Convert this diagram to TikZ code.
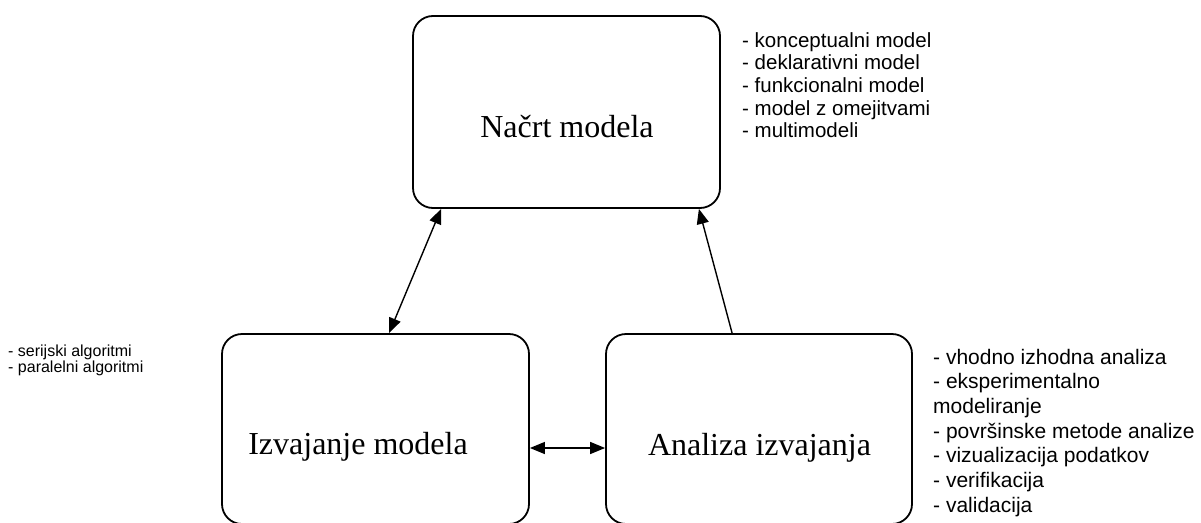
\documentclass[tikz,border=0pt]{standalone}
\usepackage{fontspec}
\setmainfont{Liberation Serif}
\setsansfont{Liberation Sans}
\usetikzlibrary{arrows.meta,calc}
\begin{document}
\begin{tikzpicture}[x=1pt,y=-1pt,
  box/.style={draw, line width=1.8pt, rounded corners=20pt, inner sep=0pt},
  lbl/.style={font=\fontsize{32}{36}\selectfont, inner sep=0pt, anchor=base},
  lst/.style={inner sep=0pt, anchor=base west},
  conn/.style={line width=1.4pt},
  tip/.style={-{Triangle[length=15pt,width=12pt]}},
  tips/.style={{Triangle[length=15pt,width=12pt]}-{Triangle[length=15pt,width=12pt]}}]
\useasboundingbox (0,0) rectangle (1201,522);
\clip (0,0) rectangle (1201,522);
% boxes
\node[box, minimum width=307pt, minimum height=192pt] (top) at (566.5,112) {};
\node[box, minimum width=307pt, minimum height=190pt] (left) at (375.5,429) {};
\node[box, minimum width=306pt, minimum height=190pt] (right) at (759,429) {};
% labels
\node[lbl] (ltop) at (567,137) {Načrt modela};
\node[lbl] (lleft) at (358,454) {Izvajanje modela};
\node[lbl] (lright) at (759.5,455) {Analiza izvajanja};
% lists
\node[lst] (stop) at (742,47) {\parbox[t]{300pt}{\raggedright\sffamily\fontsize{20.5}{22.7}\selectfont
- konceptualni model\\
- deklarativni model\\
- funkcionalni model\\
- model z omejitvami\\
- multimodeli}};
\node[lst] (sleft) at (8,356) {\parbox[t]{200pt}{\raggedright\sffamily\fontsize{16}{16.5}\selectfont
- serijski algoritmi\\
- paralelni algoritmi}};
\node[lst] (sright) at (933,364) {\parbox[t]{300pt}{\raggedright\sffamily\fontsize{21}{24.7}\selectfont
- vhodno izhodna analiza\\
- eksperimentalno\\
modeliranje\\
- površinske metode analize\\
- vizualizacija podatkov\\
- verifikacija\\
- validacija}};
% connector anchors
\coordinate (tA) at ($(top.south west)+(29,0)$);
\coordinate (tB) at ($(top.south east)+(-22,0)$);
\coordinate (lA) at ($(left.north west)+(168,0)$);
\coordinate (rA) at ($(right.north west)+(127,0)$);
\coordinate (lE) at ($(left.east)+(0,19)$);
\coordinate (rW) at ($(right.west)+(0,19)$);
% connectors
\draw[conn, tips] (tA) -- (lA);
\draw[conn, tip] (rA) -- (tB);
\draw[conn, tips] (lE) -- (rW);
\end{tikzpicture}
\end{document}
